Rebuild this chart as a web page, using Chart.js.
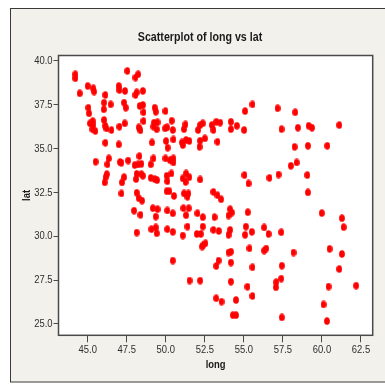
<!DOCTYPE html>
<html>
<head>
<meta charset="utf-8">
<title>Scatterplot of long vs lat</title>
<script src="https://cdn.jsdelivr.net/npm/chart.js@4.4.1/dist/chart.umd.min.js"></script>
<style>
    html, body { margin: 0; padding: 0; background: #ffffff; }
    #wrap { width: 385px; height: 384px; }
</style>
</head>
<body>
<div id="wrap"><canvas id="scatterChart" width="385" height="384"></canvas></div>
<script>
// Chart data
const chartTitle = 'Scatterplot of long vs lat';
const xTitle = 'long';
const yTitle = 'lat';

const longVals = [
    44.21, 44.21, 44.49, 45.00, 45.36, 45.41, 47.54, 48.06, 48.23, 46.99,
    47.03, 47.39, 48.14, 48.06, 48.53, 46.13, 46.05, 46.47, 47.33, 47.44,
    48.33, 48.53, 48.57, 46.03, 45.04, 45.09, 49.29, 49.36, 45.15, 45.32,
    45.36, 45.30, 45.49, 46.05, 46.13, 46.20, 46.52, 47.03, 47.37, 48.27,
    48.38, 48.57, 49.25, 49.47, 49.21, 49.42, 46.13, 46.99, 49.12, 45.51,
    46.35, 46.26, 47.07, 47.16, 47.59, 48.01, 48.23, 48.31, 48.44, 49.21,
    49.04, 46.22, 46.15, 46.09, 47.33, 47.20, 48.14, 48.10, 48.44, 48.53,
    49.04, 49.29, 49.44, 47.16, 48.14, 48.27, 48.48, 47.97, 48.38, 49.17,
    49.47, 49.36, 48.14, 49.08, 49.36, 49.42, 49.98, 55.08, 55.55, 49.96,
    50.09, 50.38, 50.45, 51.26, 51.17, 52.20, 52.37, 52.07, 52.95, 53.23,
    53.48, 53.05, 54.17, 54.17, 54.55, 55.02, 50.02, 50.49, 50.12, 51.04,
    51.30, 51.51, 51.09, 52.20, 52.16, 52.50, 53.31, 49.98, 50.27, 50.49,
    50.49, 50.06, 50.36, 50.10, 51.09, 51.30, 51.51, 51.27, 52.20, 55.04,
    55.30, 50.06, 50.23, 50.53, 51.17, 51.45, 51.39, 53.05, 53.31, 53.54,
    50.10, 50.45, 51.13, 51.47, 51.30, 52.03, 52.37, 53.12, 54.12, 54.23,
    54.02, 55.25, 50.10, 50.45, 51.09, 51.39, 51.99, 52.24, 52.37, 53.05,
    53.39, 54.12, 54.02, 55.13, 55.08, 55.51, 56.30, 52.33, 52.41, 52.54,
    54.02, 54.17, 55.36, 50.45, 53.38, 53.23, 54.17, 55.55, 51.52, 52.20,
    54.17, 55.23, 55.55, 53.23, 53.57, 54.50, 54.30, 54.50, 56.58, 56.43,
    56.30, 57.39, 59.99, 61.28, 61.39, 58.18, 60.49, 61.28, 57.43, 61.11,
    57.39, 57.07, 57.05, 60.42, 62.19, 60.10, 57.43, 60.32, 57.16, 58.29,
    57.41, 58.46, 59.15, 59.36, 61.11, 58.25, 59.10, 60.34, 58.01, 58.38,
    56.64, 57.22, 59.06, 59.10
];

const latVals = [
    39.24, 39.01, 38.15, 38.57, 38.44, 38.25, 39.43, 39.05, 39.24, 38.57,
    38.34, 38.29, 38.21, 38.06, 38.29, 38.06, 37.62, 37.52, 37.62, 37.33,
    37.43, 37.49, 37.07, 37.24, 37.33, 37.01, 37.33, 37.10, 36.44, 36.57,
    36.34, 36.11, 36.00, 36.63, 36.30, 36.15, 36.06, 36.25, 36.44, 36.21,
    36.04, 36.57, 36.48, 36.50, 36.25, 36.10, 35.33, 35.24, 35.35, 34.25,
    34.44, 34.10, 34.23, 34.19, 34.32, 34.06, 34.10, 34.57, 34.13, 34.44,
    34.10, 33.54, 33.37, 33.07, 33.37, 33.07, 33.56, 33.26, 33.54, 33.45,
    33.33, 33.26, 33.20, 32.44, 32.48, 32.17, 32.03, 31.46, 31.22, 31.60,
    31.54, 31.12, 30.21, 30.40, 30.50, 30.17, 37.14, 37.14, 37.52, 36.15,
    36.21, 36.59, 36.06, 36.38, 36.11, 36.34, 36.44, 36.06, 36.34, 36.53,
    36.48, 36.06, 36.53, 36.11, 36.30, 36.06, 35.43, 35.52, 35.05, 35.35,
    35.49, 35.43, 35.20, 35.45, 35.10, 35.58, 35.39, 34.44, 34.34, 34.44,
    34.21, 33.45, 33.58, 33.14, 33.30, 33.58, 33.37, 33.10, 33.24, 33.49,
    33.01, 32.57, 32.57, 32.30, 32.44, 32.44, 32.25, 32.53, 32.34, 32.11,
    31.47, 31.31, 31.60, 31.60, 31.20, 31.31, 31.09, 31.09, 31.54, 31.35,
    31.18, 31.37, 30.40, 30.25, 30.04, 30.55, 30.13, 30.13, 30.55, 30.36,
    30.30, 30.36, 30.08, 30.55, 30.08, 30.25, 30.50, 29.41, 29.50, 29.60,
    29.07, 29.12, 29.31, 28.61, 28.61, 28.30, 28.50, 28.23, 27.47, 27.47,
    27.41, 27.12, 26.59, 26.46, 26.27, 26.36, 25.50, 25.50, 30.13, 29.30,
    29.18, 30.23, 31.32, 31.03, 30.52, 29.07, 29.28, 28.99, 28.32, 28.13,
    27.58, 27.38, 27.09, 27.13, 27.18, 26.11, 25.37, 25.16, 37.30, 37.07,
    36.11, 36.19, 36.30, 36.19, 36.34, 35.10, 35.16, 35.16, 34.02, 34.21,
    33.33, 33.52, 33.49, 32.50
];

const longTicks = [45.0, 47.5, 50.0, 52.5, 55.0, 57.5, 60.0, 62.5];
const latTicks = [25.0, 27.5, 30.0, 32.5, 35.0, 37.5, 40.0];

// no narrow font installed, so Arial-metric text is squeezed sideways
const FONT = "'Liberation Sans', Arial, sans-serif";
const SQUEEZE = 0.82;

function narrowText(ctx, text, x, y, rotation) {
    ctx.save();
    ctx.translate(x, y);
    if (rotation) ctx.rotate(rotation);
    ctx.scale(SQUEEZE, 1);
    ctx.fillText(text, 0, 0);
    ctx.restore();
}

// Minitab style symbol: a small filled red ellipse
function makeDot() {
    const c = document.createElement('canvas');
    c.width = 6;
    c.height = 8;
    const g = c.getContext('2d');
    g.fillStyle = '#ff0000';
    g.beginPath();
    g.ellipse(3, 4, 2.9, 3.8, 0, 0, Math.PI * 2);
    g.fill();
    return c;
}

// beige graph frame, white data region, title
const minitabFrame = {
    id: 'minitabFrame',
    beforeDraw(chart) {
        const { ctx, chartArea: a } = chart;
        ctx.save();
        ctx.fillStyle = '#ffffff';
        ctx.fillRect(0, 0, chart.width, chart.height);
        ctx.fillStyle = '#f3f1ec';
        ctx.fillRect(10.5, 8.5, 400, 373.5);
        ctx.strokeStyle = '#3a3a3a';
        ctx.lineWidth = 1;
        ctx.strokeRect(10.5, 8.5, 400, 373.5);
        ctx.fillStyle = '#ffffff';
        ctx.fillRect(a.left, a.top, a.right - a.left, a.bottom - a.top);

        ctx.font = 'bold 13px ' + FONT;
        ctx.fillStyle = '#1a1a1a';
        ctx.textAlign = 'center';
        ctx.textBaseline = 'middle';
        narrowText(ctx, chartTitle, 200, 37);
        ctx.restore();
    },
    afterDraw(chart) {
        const { ctx, chartArea: a, scales } = chart;
        ctx.save();
        ctx.strokeStyle = '#4a4a4a';
        ctx.lineWidth = 1.5;
        ctx.strokeRect(a.left, a.top, a.right - a.left, a.bottom - a.top);

        // tick labels at the library's own tick positions
        ctx.fillStyle = '#2e2e2e';
        ctx.font = '11.5px ' + FONT;
        ctx.textBaseline = 'middle';
        ctx.textAlign = 'right';
        scales.y.ticks.forEach(t => {
            narrowText(ctx, t.value.toFixed(1), a.left - 6, scales.y.getPixelForValue(t.value));
        });
        ctx.textAlign = 'center';
        scales.x.ticks.forEach(t => {
            narrowText(ctx, t.value.toFixed(1), scales.x.getPixelForValue(t.value), a.bottom + 15);
        });

        // axis titles
        ctx.fillStyle = '#1a1a1a';
        ctx.font = 'bold 11.5px ' + FONT;
        narrowText(ctx, xTitle, (a.left + a.right) / 2, 365);
        narrowText(ctx, yTitle, 26.5, (a.top + a.bottom) / 2, -Math.PI / 2);
        ctx.restore();
    }
};

const points = longVals.map((x, i) => ({ x: x, y: latVals[i] }));

new Chart(document.getElementById('scatterChart'), {
    type: 'scatter',
    data: {
        datasets: [{
            label: 'lat',
            data: points,
            pointStyle: makeDot(),
            radius: 3,
            hoverRadius: 3
        }]
    },
    options: {
        responsive: false,
        animation: false,
        events: [],
        layout: {
            padding: { left: 18, top: 55.5, right: 12.3, bottom: 10.4 }
        },
        plugins: {
            legend: { display: false },
            tooltip: { enabled: false }
        },
        scales: {
            x: {
                type: 'linear',
                min: 43.13,
                max: 63.25,
                afterBuildTicks: (scale) => {
                    scale.ticks = longTicks.map(v => ({ value: v }));
                },
                afterFit: (scale) => { scale.height = 38.3; },
                ticks: { display: false },
                grid: {
                    drawOnChartArea: false,
                    tickLength: 7,
                    color: '#4a4a4a'
                },
                border: { display: false }
            },
            y: {
                type: 'linear',
                min: 24.35,
                max: 40.31,
                afterBuildTicks: (scale) => {
                    scale.ticks = latTicks.map(v => ({ value: v }));
                },
                afterFit: (scale) => { scale.width = 40.5; },
                ticks: { display: false },
                grid: {
                    drawOnChartArea: false,
                    tickLength: 5,
                    color: '#4a4a4a'
                },
                border: { display: false }
            }
        }
    },
    plugins: [minitabFrame]
});
</script>
</body>
</html>
